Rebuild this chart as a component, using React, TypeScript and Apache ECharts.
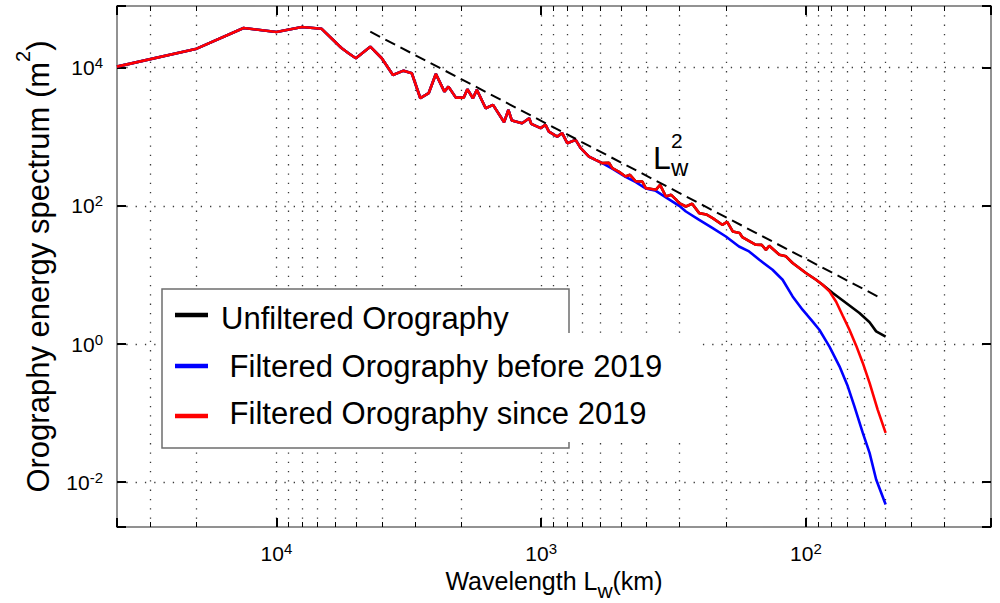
import React, { useEffect, useRef } from "react";
import * as echarts from "echarts";

// Axis ranges: wavelength (km, drawn from long to short) and energy (m^2)
const WAVELENGTH_RANGE = [20, 40000];
const ENERGY_RANGE = [0.00225, 78000];

// Large scales, where all three spectra coincide
const sharedWavelength = [
  40000, 20000, 13300, 10000, 8000, 6760, 5680, 5340, 5010, 4420, 4000, 3630, 3310, 3080, 2860,
  2660, 2500, 2320, 2240, 2100, 1960, 1900, 1810, 1750, 1620, 1520, 1380, 1330, 1290, 1180, 1110,
  1090, 1005, 963, 935, 870, 833, 797, 741, 709, 660, 623, 588,
];
const sharedEnergy = [
  10340, 18830, 37500, 32820, 38770, 36630, 19270, 16150, 13670, 20120, 13670, 7845, 9050, 8300,
  3611, 4264, 8110, 4498, 5312, 3684, 3684, 4873, 3611, 4761, 2588, 2888, 1624, 2446, 1713, 1571,
  1855, 1535, 1330, 1484, 1188, 1006, 1126, 807, 901, 683, 517, 463, 415,
];

// Intermediate scales, shared by the unfiltered and the since-2019 spectra
const midWavelength = [
  554, 539, 508, 480, 462, 439, 415, 403, 369, 355.5, 338, 323, 310, 301, 284, 269, 253, 238,
  225, 207, 198.4, 189, 178, 174, 154.5, 147, 141.6, 137.6, 126, 119, 112.3, 100, 91.6, 86.5,
];
const midEnergy = [
  419, 351, 310, 266, 281, 225, 225, 180.5, 170.6, 201.5, 136.5, 144.4, 124, 109.5, 97.8, 107,
  78.5, 75, 66.5, 53.2, 58.8, 42.6, 40.5, 35.3, 27.3, 27.2, 23.1, 26.4, 19.6, 18.6, 14.9, 10.66,
  8.52, 7.22,
];

// Small-scale ends of each spectrum
const unfilteredTailWavelength = [79.2, 70.5, 62.8, 57.5, 54.3, 50];
const unfilteredTailEnergy = [5.48, 3.93, 2.81, 2.07, 1.525, 1.278];

const sinceTailWavelength = [81.5, 76.9, 72.6, 68.5, 64.6, 61, 57.5, 53.6, 50];
const sinceTailEnergy = [5.78, 4.1, 2.57, 1.61, 0.948, 0.533, 0.274, 0.1125, 0.0518];

const beforeTailWavelength = [
  539, 480, 439, 403, 369, 338, 301, 284, 253, 225, 200.6, 179, 164, 150, 133.7, 122.5, 112.3,
  103, 94.3, 89, 81.5, 74.7, 69.5, 65.6, 61, 57.5, 54.3, 50,
];
const beforeTailEnergy = [
  345, 262, 221, 178, 165, 133, 100, 82.8, 62.8, 47.7, 36.0, 25.8, 21.9, 16.6, 11.9, 8.52, 4.89,
  3.14, 2.11, 1.61, 0.917, 0.476, 0.2445, 0.1256, 0.0518, 0.0266, 0.01095, 0.00476,
];

// L_w^2 reference slope
const slopeWavelength = [4420, 53.6];
const slopeEnergy = [33150, 4.89];

const legendLabels = [
  "Unfiltered Orography",
  " Filtered Orography before 2019",
  " Filtered Orography since 2019",
];
const seriesColors = ["#000000", "#0000ff", "#ff0000"];

const FONT = '"Liberation Sans", Arial, Helvetica, sans-serif';
const FRAME = "#6e6e6e";
const GRID_LINE = { color: "#3a3a3a", width: 1.3, type: [1.3, 8] as number[] };

const zip = (xs: number[], ys: number[]) => xs.map((x, i) => [x, ys[i]]);

// "10^n" labels; non-decade boundary ticks stay blank
const powerLabel = (value: number) => {
  const e = Math.log10(value);
  const r = Math.round(e);
  if (Math.abs(e - r) > 1e-6) return "";
  return `{b|10}{s|${r}}`;
};

const tickRich = {
  b: { fontSize: 21, lineHeight: 25, fontFamily: FONT, color: "#000" },
  s: { fontSize: 15, lineHeight: 11, verticalAlign: "top", fontFamily: FONT, color: "#000" },
};

function buildOption() {
  const xBase = {
    type: "log",
    logBase: 10,
    min: WAVELENGTH_RANGE[0],
    max: WAVELENGTH_RANGE[1],
    inverse: true,
    axisLine: { show: true, lineStyle: { color: FRAME, width: 1.5 } },
    axisTick: { show: true, inside: true, length: 9, lineStyle: { color: "#000", width: 2 } },
    minorTick: { show: true, splitNumber: 9, length: 5, lineStyle: { color: "#000", width: 1 } },
  };
  const yBase = {
    type: "log",
    logBase: 100,
    min: ENERGY_RANGE[0],
    max: ENERGY_RANGE[1],
    axisLine: { show: true, lineStyle: { color: FRAME, width: 1.5 } },
    axisTick: { show: true, inside: true, length: 9, lineStyle: { color: "#000", width: 2 } },
  };

  const legendRows = [318, 366.5, 413];
  const legendElements: any[] = [
    {
      type: "rect",
      shape: { x: 162, y: 289, width: 407, height: 159 },
      style: { fill: "#fff", stroke: FRAME, lineWidth: 1.5 },
    },
    { type: "rect", shape: { x: 566, y: 333, width: 134, height: 109 }, style: { fill: "#fff" } },
  ];
  legendLabels.forEach((label, i) => {
    const lineY = [315, 366, 416][i];
    legendElements.push({
      type: "line",
      shape: { x1: 175, y1: lineY, x2: 208, y2: lineY },
      style: { stroke: seriesColors[i], lineWidth: 4.5 },
    });
    legendElements.push({
      type: "text",
      x: 221,
      y: legendRows[i],
      style: {
        text: label,
        fontSize: 31,
        fontFamily: FONT,
        fill: "#000",
        align: "left",
        verticalAlign: "middle",
      },
    });
  });

  // L_w^2 annotation: L, subscript w and superscript 2
  const annot = (text: string, x: number, y: number, fontSize: number) => ({
    type: "text",
    x,
    y,
    style: {
      text,
      fontSize,
      fontFamily: FONT,
      fill: "#000",
      align: "left",
      verticalAlign: "middle",
    },
  });
  const slopeLabel = [
    annot("L", 653, 157.5, 32),
    annot("w", 671, 167.8, 24),
    annot("2", 671, 140.6, 21),
  ];

  const lineSeries = (name: string, color: string, data: number[][]) => ({
    name,
    type: "line",
    xAxisIndex: 0,
    yAxisIndex: 0,
    data,
    symbol: "none",
    showSymbol: false,
    lineStyle: { color, width: 2.6 },
    itemStyle: { color },
    z: 3,
  });

  return {
    animation: false,
    backgroundColor: "#ffffff",
    textStyle: { fontFamily: FONT },
    grid: { left: 117, right: 9, top: 6, bottom: 76, containLabel: false, outerBoundsMode: "none" },
    xAxis: [
      {
        ...xBase,
        position: "bottom",
        name: "{a|Wavelength L}{b|w}{a|(km)}",
        nameLocation: "middle",
        nameGap: 34,
        nameTextStyle: {
          rich: {
            a: { fontSize: 25, lineHeight: 40, fontFamily: FONT, color: "#000" },
            b: { fontSize: 21, lineHeight: 13, verticalAlign: "bottom", fontFamily: FONT, color: "#000" },
          },
        },
        axisLabel: { show: true, formatter: powerLabel, margin: 14, rich: tickRich },
        splitLine: { show: true, showMinLine: false, showMaxLine: false, lineStyle: GRID_LINE },
        minorSplitLine: { show: true, lineStyle: GRID_LINE },
      },
      {
        ...xBase,
        position: "top",
        axisLabel: { show: false },
        splitLine: { show: false },
        minorSplitLine: { show: false },
      },
    ],
    yAxis: [
      {
        ...yBase,
        position: "left",
        name: "{a|Orography energy spectrum (m}{s|2}{a|)}",
        nameLocation: "middle",
        nameRotate: 90,
        nameGap: 54,
        nameTextStyle: {
          rich: {
            a: { fontSize: 31, lineHeight: 50, fontFamily: FONT, color: "#000" },
            s: { fontSize: 20, lineHeight: 20, verticalAlign: "top", fontFamily: FONT, color: "#000" },
          },
        },
        axisLabel: { show: true, formatter: powerLabel, margin: 14, rich: tickRich },
        splitLine: { show: true, showMinLine: false, showMaxLine: false, lineStyle: GRID_LINE },
      },
      {
        ...yBase,
        position: "right",
        axisLabel: { show: false },
        splitLine: { show: false },
      },
    ],
    series: [
      lineSeries(
        legendLabels[0],
        seriesColors[0],
        zip(
          [...sharedWavelength, ...midWavelength, ...unfilteredTailWavelength],
          [...sharedEnergy, ...midEnergy, ...unfilteredTailEnergy]
        )
      ),
      lineSeries(
        legendLabels[1],
        seriesColors[1],
        zip([...sharedWavelength, ...beforeTailWavelength], [...sharedEnergy, ...beforeTailEnergy])
      ),
      lineSeries(
        legendLabels[2],
        seriesColors[2],
        zip(
          [...sharedWavelength, ...midWavelength, ...sinceTailWavelength],
          [...sharedEnergy, ...midEnergy, ...sinceTailEnergy]
        )
      ),
      {
        name: "slope",
        type: "line",
        xAxisIndex: 0,
        yAxisIndex: 0,
        data: zip(slopeWavelength, slopeEnergy),
        symbol: "none",
        showSymbol: false,
        lineStyle: { color: "#000", width: 2, type: [11, 6] },
        z: 4,
      },
    ],
    graphic: { elements: [...legendElements, ...slopeLabel].map((el) => ({ ...el, z: 100 })) },
  };
}

export default function App() {
  const ref = useRef<HTMLDivElement>(null);
  useEffect(() => {
    if (!ref.current) return;
    const chart = echarts.init(ref.current, undefined, { renderer: "svg" });
    chart.setOption(buildOption() as any);
    return () => chart.dispose();
  }, []);
  return (
    <div
      ref={ref}
      style={{ position: "absolute", left: 0, top: 0, width: 1000, height: 603, background: "#fff" }}
    />
  );
}
